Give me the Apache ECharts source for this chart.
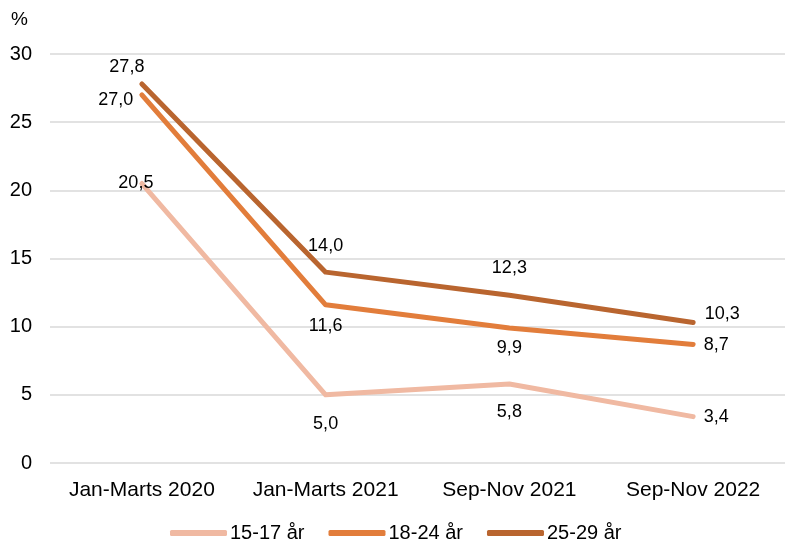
<!DOCTYPE html>
<html>
<head>
<meta charset="utf-8">
<script src="https://cdn.jsdelivr.net/npm/echarts@6/dist/echarts.min.js"></script>
<style>
  html, body { margin: 0; padding: 0; background: #fff; }
  #chart { width: 785px; height: 543px; }
</style>
</head>
<body>
<div id="chart"></div>
<script>
// data
const categories = ['Jan-Marts 2020', 'Jan-Marts 2021', 'Sep-Nov 2021', 'Sep-Nov 2022'];
const seriesNames = ['15-17 år', '18-24 år', '25-29 år'];
const age15to17 = [20.5, 5.0, 5.8, 3.4];
const age18to24 = [27.0, 11.6, 9.9, 8.7];
const age25to29 = [27.8, 14.0, 12.3, 10.3];
const yTicks = [0, 5, 10, 15, 20, 25, 30];

const colors = ['#f0b9a2', '#e27d3b', '#b9652f'];
const font = 'Liberation Sans, Arial, sans-serif';

// label placement per point: [position, offsetX, offsetY]
const labelPlace = [
    [['inside', -6, 0], ['bottom', 0, 15], ['bottom', 0, 14], ['right', 5, 0]],
    [['left', -3, 5], ['bottom', 0, 7], ['bottom', 0, 6], ['right', 5, 1]],
    [['top', -15, -2], ['top', 0, -12], ['top', 0, -13], ['right', 6, -9]]
];

const fmt = v => v.toFixed(1).replace('.', ',');

function buildSeries(name, values, idx) {
    return {
        name: name,
        type: 'line',
        data: values.map((v, i) => ({
            value: v,
            label: {
                position: labelPlace[idx][i][0],
                offset: [labelPlace[idx][i][1], labelPlace[idx][i][2]]
            }
        })),
        symbol: 'circle',
        symbolSize: 1,
        showSymbol: true,
        lineStyle: { width: 5, color: colors[idx], cap: 'round', join: 'round' },
        itemStyle: { color: colors[idx] },
        label: {
            show: true,
            formatter: p => fmt(p.value),
            color: '#000',
            fontSize: 18,
            fontFamily: font
        },
        z: 2 + idx
    };
}

const chart = echarts.init(document.getElementById('chart'));
chart.setOption({
    animation: false,
    color: colors,
    textStyle: { fontFamily: font },
    grid: { left: 50, right: 0, top: 54, bottom: 80 },
    graphic: [{
        type: 'text',
        left: 11,
        top: 10,
        style: { text: '%', fontSize: 19, fill: '#000', fontFamily: font }
    }],
    legend: {
        top: 518,
        left: 165,
        itemWidth: 57,
        itemHeight: 6,
        itemGap: 24,
        icon: 'roundRect',
        textStyle: { fontSize: 20, color: '#000', fontFamily: font, padding: [0, 0, 0, -2] },
        data: seriesNames
    },
    xAxis: {
        type: 'category',
        data: categories,
        boundaryGap: true,
        axisLine: { show: false },
        axisTick: { show: false },
        axisLabel: { color: '#000', fontSize: 21, margin: 17, fontFamily: font, interval: 0 }
    },
    yAxis: {
        type: 'value',
        min: yTicks[0],
        max: yTicks[yTicks.length - 1],
        interval: 5,
        axisLine: { show: false },
        axisTick: { show: false },
        axisLabel: { color: '#000', fontSize: 20, margin: 18, fontFamily: font },
        splitLine: { lineStyle: { color: '#d9d9d9', width: 1.5 } }
    },
    series: [
        buildSeries(seriesNames[0], age15to17, 0),
        buildSeries(seriesNames[1], age18to24, 1),
        buildSeries(seriesNames[2], age25to29, 2)
    ]
});
</script>
</body>
</html>
